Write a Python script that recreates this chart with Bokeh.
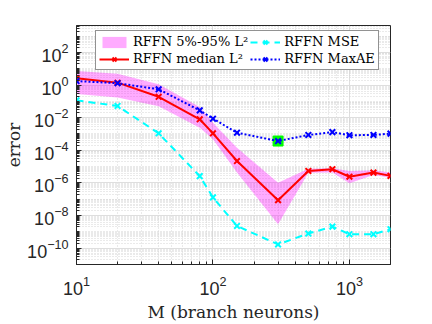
from bokeh.plotting import figure
from bokeh.models import Range1d, FixedTicker, Legend, LegendItem
from bokeh.embed import file_html
from bokeh.resources import INLINE

# ---- data ----
M = [10, 20, 40, 80, 100, 150, 300, 500, 750, 1000, 1500, 2000]
median_l2 = [2.6, 1.4, 0.19, 8e-3, 1.1e-3, 2.2e-5, 8.7e-8, 5.4e-6, 6.9e-6, 2.4e-6, 4.3e-6, 2.7e-6]
l2_p95 = [7.2, 4.9, 1.1, 0.045, 4.9e-3, 1.45e-4, 1.04e-6, 7.5e-6, 7.9e-6, 5.4e-6, 6.0e-6, 4.3e-6]
l2_p5 = [0.28, 0.17, 0.05, 2.4e-3, 4.7e-4, 4.3e-6, 2.9e-9, 4.2e-6, 4.3e-6, 9.5e-7, 3.1e-6, 2.1e-6]
mse = [0.115, 0.052, 1.1e-3, 2.6e-6, 1.3e-7, 2.3e-9, 1.7e-10, 7.9e-10, 2.1e-9, 7.2e-10, 7.2e-10, 1.45e-9]
maxae = [1.75, 1.3, 0.55, 0.028, 8.7e-3, 1.2e-3, 3.7e-4, 8.7e-4, 1.3e-3, 8.4e-4, 8.7e-4, 1.05e-3]
best_M = [300]
best_err = [maxae[M.index(300)]]

x_major = [10, 100, 1000]
x_minor = [m * 10 ** k for k in range(1, 4) for m in range(2, 10) if m * 10 ** k <= 2000]
y_major = [10.0 ** k for k in range(-10, 3, 2)]
y_minor = [m * 10.0 ** k for k in range(-11, 4) for m in range(1, 10)
           if not (m == 1 and k % 2 == 0)]

labels = ["RFFN 5%-95% L\u00b2", "RFFN median L\u00b2", "RFFN MSE", "RFFN MaxAE"]

AX = "#262626"
TICK_FONT = "Liberation Sans"
SERIF = "DejaVu Serif"

p = figure(width=432, height=324, x_axis_type="log", y_axis_type="log",
           x_range=Range1d(10, 2000), y_range=Range1d(1e-11, 10 ** 3.65),
           output_backend="svg", toolbar_location=None,
           min_border_left=76, min_border_right=42, min_border_top=25,
           min_border_bottom=60)
p.outline_line_color = AX
p.outline_line_width = 1
p.background_fill_color = "white"

p.xaxis.ticker = FixedTicker(ticks=x_major, minor_ticks=x_minor)
p.yaxis.ticker = FixedTicker(ticks=y_major, minor_ticks=y_minor)

for ax in (p.xaxis[0], p.yaxis[0]):
    ax.axis_line_color = AX
    ax.major_tick_line_color = AX
    ax.minor_tick_line_color = AX
    ax.major_tick_in = 5
    ax.major_tick_out = 0
    ax.minor_tick_in = 3
    ax.minor_tick_out = 0
    ax.major_label_text_font = TICK_FONT
    ax.major_label_text_font_size = "18px"
    ax.major_label_text_color = AX
    ax.axis_label_text_font = SERIF
    ax.axis_label_text_font_style = "normal"
    ax.axis_label_text_font_size = "17px"
    ax.axis_label_text_color = AX

p.xaxis.axis_label = "M (branch neurons)"
p.yaxis.axis_label = "error"
p.xaxis.major_label_standoff = 11
p.xaxis.axis_label_standoff = 4
p.yaxis.major_label_standoff = 8
p.yaxis.axis_label_standoff = 0

# grids
for g in (p.xgrid[0], p.ygrid[0]):
    g.grid_line_color = "#dedede"
    g.grid_line_width = 1
    g.minor_grid_line_color = "#d4d4d4"
    g.minor_grid_line_dash = "1 2"
    g.minor_grid_line_width = 1

band = p.varea(x=M, y1=l2_p5, y2=l2_p95, fill_color="#ff00ff", fill_alpha=0.33)

r_med_l = p.line(M, median_l2, line_color="red", line_width=2)
r_med_m = p.scatter(M, median_l2, marker="x", size=8, line_color="red", line_width=2)

r_mse_l = p.line(M, mse, line_color="cyan", line_width=2, line_dash="7 5")
r_mse_m = p.scatter(M, mse, marker="x", size=8, line_color="cyan", line_width=2)

p.scatter(best_M, best_err, marker="square", size=10, line_color="#00ff00",
          line_width=1, fill_color="#00ff00")
r_max_l = p.line(M, maxae, line_color="blue", line_width=2, line_dash="2 2")
r_max_m = p.scatter(M, maxae, marker="x", size=8, line_color="blue", line_width=2)

legend = Legend(items=[
    LegendItem(label=labels[0], renderers=[band]),
    LegendItem(label=labels[1], renderers=[r_med_l, r_med_m]),
    LegendItem(label=labels[2], renderers=[r_mse_l, r_mse_m]),
    LegendItem(label=labels[3], renderers=[r_max_l, r_max_m]),
], ncols=2, location=(19, 194))
legend.label_text_font = SERIF
legend.label_text_font_size = "13px"
legend.label_text_color = "black"
legend.border_line_color = AX
legend.border_line_width = 1
legend.background_fill_alpha = 1
legend.glyph_width = 30
legend.glyph_height = 14
legend.label_height = 14
legend.label_standoff = 4
legend.spacing = 2
legend.padding = 3
legend.margin = 0
p.add_layout(legend, "center")

open("out.html", "w").write(file_html(p, INLINE))
